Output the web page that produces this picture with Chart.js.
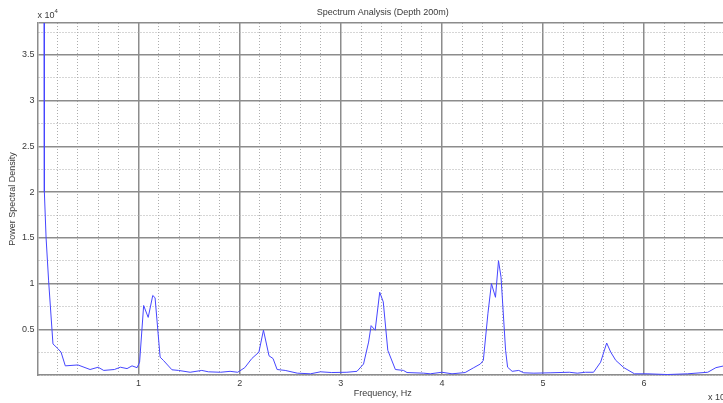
<!DOCTYPE html>
<html>
<head>
<meta charset="utf-8">
<script src="https://cdn.jsdelivr.net/npm/chart.js@4/dist/chart.umd.min.js"></script>
<style>
  html, body { margin: 0; padding: 0; background: #fff; overflow: hidden; }
  #wrap { width: 723px; height: 403px; overflow: hidden; }
  canvas { display: block; }
</style>
</head>
<body>
<div id="wrap"><canvas id="psd" width="745" height="403"></canvas></div>
<script>
// frequency (x axis units, scaled by the cut-off "x 10" factor)
const freq = [0.065, 0.068, 0.085, 0.11, 0.153, 0.20, 0.233, 0.275, 0.40, 0.52, 0.60, 0.655, 0.76, 0.82,
  0.886, 0.935, 0.985, 1.01, 1.05, 1.095, 1.14, 1.163, 1.213, 1.245, 1.33, 1.395, 1.51, 1.625, 1.69, 1.81,
  1.905, 1.98, 2.05, 2.12, 2.19, 2.235, 2.29, 2.33, 2.37, 2.45, 2.57, 2.70, 2.80, 2.91, 3.06, 3.16, 3.225,
  3.275, 3.30, 3.34, 3.385, 3.42, 3.465, 3.54, 3.62, 3.655, 3.82, 3.885, 4.0, 4.10, 4.23, 4.315, 4.38, 4.41,
  4.455, 4.49, 4.53, 4.56, 4.585, 4.63, 4.65, 4.695, 4.76, 4.81, 4.91, 5.07, 5.26, 5.34, 5.42, 5.50, 5.57,
  5.63, 5.67, 5.72, 5.80, 5.905, 6.03, 6.23, 6.43, 6.63, 6.71, 6.79, 6.85];
// power spectral density
const psd = [46000, 20000, 15000, 10300, 3400, 2900, 2500, 1000, 1100, 600, 850, 500, 600, 850,
  700, 1000, 800, 1400, 7600, 6300, 8700, 8450, 1950, 1600, 570, 500, 300, 500, 350, 300,
  400, 300, 800, 1800, 2500, 4900, 2100, 1800, 600, 500, 200, 130, 350, 270, 300, 400, 1200,
  3600, 5400, 4900, 9050, 8000, 2700, 600, 500, 270, 200, 130, 300, 130, 270, 800, 1200, 1600,
  6700, 10000, 8500, 12500, 10700, 2700, 850, 400, 500, 240, 200, 240, 300, 200, 300, 300, 1400,
  3500, 2500, 1600, 800, 130, 130, 50, 130, 300, 800, 1000, 1100];
// labelled (major) ticks
const yTicksMajor = [5000, 10000, 15000, 20000, 25000, 30000, 35000];
const xTicksMajor = [1, 2, 3, 4, 5, 6];

const X_MAX = 6.83, Y_MAX = 38500;
const X_MINOR = 0.2, Y_MINOR = 2500;
const MAJOR = '#8c8c8c', MINOR = '#adadad', TXT = '#3a3a3a';
const FONT = 'Liberation Sans, Arial, sans-serif';

// grid positions: every minor step, plus the top/right edge
function gridValues(step, max) {
  const out = [];
  for (let i = 0; i * step <= max + 1e-9; i++) out.push(Math.round(i * step * 1000) / 1000);
  if (out[out.length - 1] < max) out.push(max);
  return out;
}
const near = (list, v) => list.some((m) => Math.abs(m - v) < 1e-6);
const isMajorX = (v) => near(xTicksMajor, v) || v >= X_MAX;
const isMajorY = (v) => near(yTicksMajor, v) || v >= Y_MAX;

const textPlugin = {
  id: 'texts',
  afterDraw(chart) {
    const { ctx, chartArea: a } = chart;
    ctx.save();
    ctx.fillStyle = TXT;
    ctx.textBaseline = 'middle';
    ctx.font = '9px ' + FONT;
    ctx.textAlign = 'center';
    ctx.fillText('Spectrum Analysis (Depth 200m)', (a.left + a.right) / 2, a.top - 10);
    ctx.textAlign = 'left';
    ctx.fillText('x 10', a.left, a.top - 7);
    ctx.fillText('x 10', a.right - 20, a.bottom + 23);
    ctx.font = '6px ' + FONT;
    ctx.fillText('4', a.left + 17, a.top - 12);
    ctx.restore();
  },
};

new Chart(document.getElementById('psd'), {
  type: 'line',
  data: {
    datasets: [{
      data: freq.map((f, i) => ({ x: f, y: psd[i] })),
      borderColor: '#4646ff',
      borderWidth: 1,
      pointRadius: 0,
      tension: 0,
      fill: false,
    }],
  },
  options: {
    responsive: false,
    animation: false,
    layout: { padding: { top: 23, right: 17, left: 0, bottom: 0 } },
    plugins: { legend: { display: false }, tooltip: { enabled: false } },
    scales: {
      x: {
        type: 'linear',
        min: 0,
        max: X_MAX,
        afterFit: (s) => { s.height = 28; },
        afterBuildTicks: (s) => { s.ticks = gridValues(X_MINOR, X_MAX).map((v) => ({ value: v })); },
        ticks: {
          autoSkip: false,
          maxRotation: 0,
          padding: 3,
          color: TXT,
          font: { family: FONT, size: 9 },
          callback: (v) => (near(xTicksMajor, v) ? String(Math.round(v)) : ''),
        },
        grid: {
          drawTicks: false,
          color: (c) => (c.tick && isMajorX(c.tick.value) ? MAJOR : MINOR),
          lineWidth: (c) => (c.tick && isMajorX(c.tick.value) ? 1.5 : 1),
        },
        border: {
          display: true, color: MAJOR, width: 1.5,
          dash: (c) => (c.tick && !isMajorX(c.tick.value) ? [1, 2] : []),
        },
        title: {
          display: true, text: 'Frequency, Hz', color: TXT,
          font: { family: FONT, size: 9 }, padding: { top: 4, bottom: 4 },
        },
      },
      y: {
        type: 'linear',
        min: 0,
        max: Y_MAX,
        afterFit: (s) => { s.width = 37.5; },
        afterBuildTicks: (s) => { s.ticks = gridValues(Y_MINOR, Y_MAX).map((v) => ({ value: v })); },
        ticks: {
          autoSkip: false,
          padding: 3,
          color: TXT,
          font: { family: FONT, size: 9 },
          callback: (v) => (near(yTicksMajor, v) ? String(Math.round(v) / 10000) : ''),
        },
        grid: {
          drawTicks: false,
          color: (c) => (c.tick && isMajorY(c.tick.value) ? MAJOR : MINOR),
          lineWidth: (c) => (c.tick && isMajorY(c.tick.value) ? 1.5 : 1),
        },
        border: {
          display: true, color: MAJOR, width: 1.5,
          dash: (c) => (c.tick && !isMajorY(c.tick.value) ? [1, 2] : []),
        },
        title: {
          display: true, text: 'Power Spectral Density', color: TXT,
          font: { family: FONT, size: 9 }, padding: { top: 7, bottom: 0 },
        },
      },
    },
  },
  plugins: [textPlugin],
});
</script>
</body>
</html>
